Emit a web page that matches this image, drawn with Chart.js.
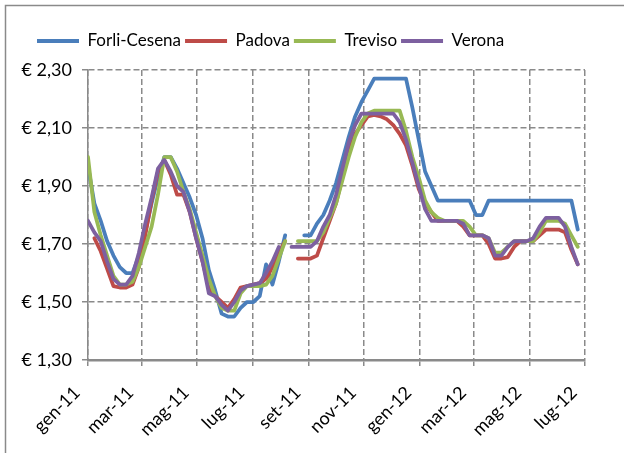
<!DOCTYPE html>
<html>
<head>
    <title>Prezzi settimanali</title>
    <script src="https://cdn.jsdelivr.net/npm/chart.js"></script>
    <style>
        body { margin: 0; background: #fff; overflow: hidden; }
    </style>
</head>
<body>
    <canvas id="priceChart" width="624" height="453"></canvas>
    <script>
        // weekly quotes, one value per week starting from 1 Jan 2011 (null = no quote)
        const weekCount = 78;
        const weekDays = Array.from({ length: weekCount }, (_, i) => i * 7);

        const forliCesena = [1.97, 1.84, 1.78, 1.71, 1.66, 1.62, 1.60, 1.60, 1.66, 1.74, 1.84, 1.93, 2.00, 2.00, 1.96, 1.91,
            1.86, 1.80, 1.72, 1.61, 1.54, 1.46, 1.45, 1.45, 1.48, 1.50, 1.50, 1.52, 1.63, 1.56, 1.64, 1.73,
            null, null, 1.73, 1.73, 1.77, 1.80, 1.85, 1.91, 1.99, 2.07, 2.14, 2.19, 2.23, 2.27,
            2.27, 2.27, 2.27, 2.27, 2.27, 2.17, 2.06, 1.95, 1.90, 1.85, 1.85, 1.85, 1.85, 1.85, 1.85, 1.80, 1.80,
            1.85, 1.85, 1.85, 1.85, 1.85, 1.85, 1.85, 1.85, 1.85, 1.85, 1.85, 1.85, 1.85, 1.85, 1.75];

        const padova = [null, 1.72, 1.675, 1.615, 1.555, 1.55, 1.55, 1.56, 1.62, 1.73, 1.85, 1.95, 1.99, 1.94, 1.87, 1.87,
            1.81, 1.72, 1.64, 1.55, 1.52, 1.50, 1.48, 1.51, 1.55, 1.555, 1.56, 1.565, 1.58, 1.62, 1.67, 1.71,
            null, 1.65, 1.65, 1.65, 1.66, 1.72, 1.78, 1.84, 1.93, 2.02, 2.08, 2.11, 2.14, 2.145,
            2.14, 2.13, 2.11, 2.08, 2.04, 1.97, 1.89, 1.84, 1.81, 1.78, 1.78, 1.78, 1.78, 1.76, 1.73, 1.73, 1.73,
            1.70, 1.65, 1.65, 1.655, 1.69, 1.71, 1.71, 1.71, 1.73, 1.75, 1.75, 1.75, 1.74, 1.68, 1.63];

        const treviso = [2.00, 1.81, 1.73, 1.66, 1.59, 1.56, 1.56, 1.57, 1.62, 1.69, 1.76, 1.87, 2.00, 2.00, 1.95, 1.88,
            1.82, 1.74, 1.66, 1.58, 1.52, 1.48, 1.47, 1.47, 1.53, 1.555, 1.555, 1.555, 1.56, 1.59, 1.65, 1.71,
            null, 1.71, 1.71, 1.71, 1.71, 1.74, 1.79, 1.84, 1.92, 2.00, 2.07, 2.12, 2.15, 2.16,
            2.16, 2.16, 2.16, 2.16, 2.09, 2.00, 1.93, 1.85, 1.81, 1.79, 1.78, 1.78, 1.78, 1.78, 1.76, 1.73, 1.73,
            1.72, 1.67, 1.67, 1.69, 1.71, 1.71, 1.71, 1.71, 1.74, 1.78, 1.78, 1.78, 1.77, 1.73, 1.69];

        const verona = [1.78, 1.74, 1.71, 1.64, 1.58, 1.56, 1.56, 1.59, 1.67, 1.77, 1.86, 1.96, 1.99, 1.95, 1.90, 1.88,
            1.81, 1.72, 1.64, 1.53, 1.52, 1.49, 1.47, 1.50, 1.54, 1.555, 1.56, 1.565, 1.60, 1.64, 1.69, null,
            1.69, 1.69, 1.69, 1.69, 1.71, 1.76, 1.80, 1.87, 1.96, 2.05, 2.11, 2.15, 2.15, 2.15,
            2.15, 2.15, 2.15, 2.12, 2.06, 1.98, 1.90, 1.82, 1.78, 1.78, 1.78, 1.78, 1.78, 1.77, 1.73, 1.73, 1.73,
            1.72, 1.66, 1.66, 1.69, 1.71, 1.71, 1.71, 1.72, 1.76, 1.79, 1.79, 1.79, 1.76, 1.69, 1.63];

        // month starts (days from 1 Jan 2011) shown on the x axis
        const tickDays = [0, 59, 120, 181, 243, 304, 365, 425, 486, 547];
        const tickLabels = ['gen-11', 'mar-11', 'mag-11', 'lug-11', 'set-11', 'nov-11', 'gen-12', 'mar-12', 'mag-12', 'lug-12'];
        const yTicks = [1.30, 1.50, 1.70, 1.90, 2.10, 2.30];

        const gridGrey = '#8a8a8a';
        const legendFont = { family: 'Lato', size: 17 };
        const axisFont = { family: 'Lato', size: 18 };

        function series(label, values, color, order) {
            return {
                label: label,
                data: values.map((v, i) => ({ x: weekDays[i], y: v })),
                borderColor: color,
                backgroundColor: color,
                borderWidth: 3.75,
                borderJoinStyle: 'round',
                borderCapStyle: 'round',
                pointRadius: 0,
                tension: 0,
                spanGaps: false,
                order: order
            };
        }

        // outer frame of the chart box
        const frame = {
            id: 'frame',
            beforeDraw(chart) {
                const ctx = chart.ctx;
                ctx.save();
                ctx.strokeStyle = gridGrey;
                ctx.lineWidth = 1.5;
                ctx.strokeRect(5.5, 5.5, 640, 460);
                ctx.restore();
            }
        };

        // extra room under the legend and shift it to the left
        const legendPlacement = {
            id: 'legendPlacement',
            beforeInit(chart) {
                const fit = chart.legend.fit;
                chart.legend.fit = function () {
                    fit.call(this);
                    this.height += 10.5;
                };
            },
            afterLayout(chart) {
                chart.legend.left = 33;
            }
        };

        Chart.defaults.font = legendFont;
        Chart.defaults.color = '#000';

        new Chart(document.getElementById('priceChart').getContext('2d'), {
            type: 'line',
            data: {
                datasets: [
                    series('Forli-Cesena', forliCesena, '#4a7ebb', 4),
                    series('Padova', padova, '#be4b48', 3),
                    series('Treviso', treviso, '#98b954', 2),
                    series('Verona', verona, '#7d60a0', 1)
                ]
            },
            options: {
                responsive: false,
                devicePixelRatio: 1,
                animation: false,
                layout: { padding: { top: 28.5, left: 0, right: 39, bottom: 0 } },
                plugins: {
                    tooltip: { enabled: false },
                    legend: {
                        position: 'top',
                        align: 'start',
                        labels: {
                            boxWidth: 42,
                            boxHeight: 4,
                            padding: 4,
                            font: legendFont,
                            sort: (a, b) => a.datasetIndex - b.datasetIndex,
                            generateLabels(chart) {
                                return Chart.defaults.plugins.legend.labels.generateLabels(chart)
                                    .map(item => Object.assign(item, { lineWidth: 0, fillStyle: item.strokeStyle }));
                            }
                        }
                    }
                },
                scales: {
                    x: {
                        type: 'linear',
                        min: 0,
                        max: 547,
                        afterBuildTicks(scale) {
                            scale.ticks = tickDays.map(v => ({ value: v }));
                        },
                        afterFit(scale) {
                            scale.height = 93;
                            scale.paddingLeft = 0;
                            scale.paddingRight = 0;
                        },
                        ticks: {
                            autoSkip: false,
                            minRotation: 45,
                            maxRotation: 45,
                            padding: 16,
                            labelOffset: -11,
                            font: axisFont,
                            callback: (value, index) => tickLabels[index]
                        },
                        grid: {
                            color: gridGrey,
                            lineWidth: 1.5,
                            tickLength: 6,
                            tickColor: gridGrey,
                            tickBorderDash: []
                        },
                        border: { color: gridGrey, width: 2.5, dash: [6, 3] }
                    },
                    y: {
                        min: 1.3,
                        max: 2.3,
                        afterBuildTicks(scale) {
                            scale.ticks = yTicks.map(v => ({ value: v }));
                        },
                        afterFit(scale) {
                            scale.width = 88;
                        },
                        ticks: {
                            padding: 10,
                            font: axisFont,
                            callback: value => '€ ' + value.toFixed(2).replace('.', ',')
                        },
                        grid: {
                            color: gridGrey,
                            lineWidth: 1.5,
                            tickLength: 6,
                            tickColor: gridGrey,
                            tickBorderDash: []
                        },
                        border: { color: gridGrey, width: 1.5, dash: [6, 3] }
                    }
                }
            },
            plugins: [frame, legendPlacement]
        });
    </script>
</body>
</html>
